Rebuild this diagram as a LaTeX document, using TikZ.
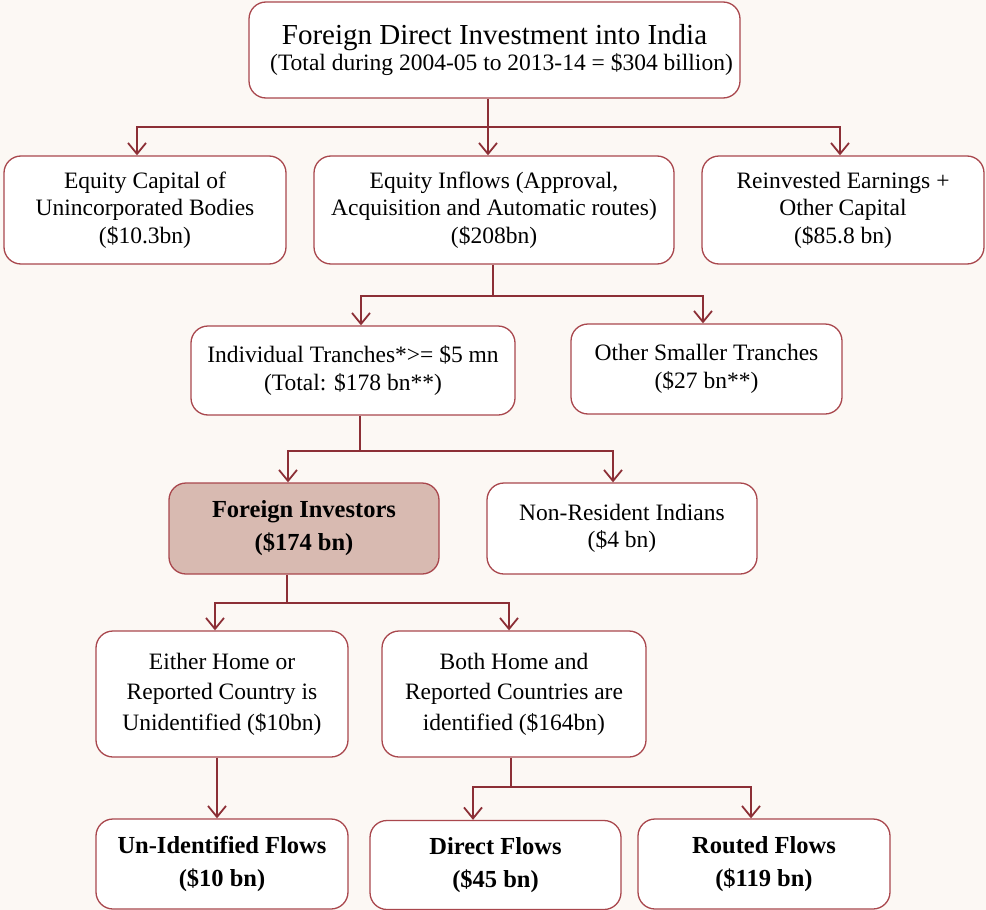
\documentclass[tikz,border=0pt]{standalone}
\usepackage{fontspec}
\setmainfont{Liberation Serif}
\usetikzlibrary{arrows.meta}
\definecolor{bgc}{HTML}{FCF8F4}
\definecolor{boxline}{HTML}{A9474D}
\definecolor{connc}{HTML}{8C2F36}
\definecolor{hlc}{HTML}{D8BAB1}
\begin{document}
\begin{tikzpicture}[x=1pt,y=-1pt,
  box/.style={draw=boxline, line width=1.3pt, rounded corners=17pt, fill=white,
    align=center, inner sep=0pt, font=\fontsize{23.5}{27.5}\selectfont},
  boldbox/.style={box, font=\fontsize{24.5}{33}\selectfont\bfseries},
  conn/.style={draw=connc, line width=2.2pt},
  arr/.style={conn, -{Straight Barb[length=11pt,width=18pt,line width=1.8pt]}}
]
\fill[bgc] (0,0) rectangle (986,910);
\useasboundingbox (0,0) rectangle (986,910);

\node[box, minimum width=491pt, minimum height=96pt] (title) at (494.5,50)
  {{\fontsize{29}{30}\selectfont Foreign Direct Investment into India}\\[-1pt]
   \fontsize{23.5}{29}\selectfont\hspace*{14pt}(Total during 2004-05 to 2013-14 = \$304 billion)};
\node[box, minimum width=282pt, minimum height=108pt] (ecub) at (145,210)
  {Equity Capital of\\Unincorporated Bodies\\(\$10.3bn)};
\node[box, minimum width=360pt, minimum height=108pt] (eqin) at (494,210)
  {Equity Inflows (Approval,\\Acquisition and Automatic routes)\\(\$208bn)};
\node[box, minimum width=282pt, minimum height=108pt] (rein) at (843,210)
  {Reinvested Earnings +\\Other Capital\\(\$85.8 bn)};
\node[box, minimum width=324pt, minimum height=89pt] (indv) at (353,370.5)
  {Individual Tranches*>= \$5 mn\\(Total: \$178 bn**)};
\node[box, minimum width=271pt, minimum height=90pt] (othr) at (706.5,369)
  {Other Smaller Tranches\\(\$27 bn**)};
\node[boldbox, fill=hlc, minimum width=270pt, minimum height=91pt] (finv) at (304,528.5)
  {Foreign Investors\\(\$174 bn)};
\node[box, minimum width=270pt, minimum height=91pt] (nri) at (622,528.5)
  {Non-Resident Indians\\(\$4 bn)};
\node[box, font=\fontsize{23.5}{30.5}\selectfont, minimum width=252pt, minimum height=126pt] (eith) at (222,694)
  {Either Home or\\Reported Country is\\Unidentified (\$10bn)};
\node[box, font=\fontsize{23.5}{30.5}\selectfont, minimum width=264pt, minimum height=126pt] (both) at (514,694)
  {Both Home and\\Reported Countries are\\identified (\$164bn)};
\node[boldbox, minimum width=252pt, minimum height=90pt] (unid) at (222,864)
  {Un-Identified Flows\\(\$10 bn)};
\node[boldbox, minimum width=251pt, minimum height=89pt] (dirf) at (495.5,865)
  {Direct Flows\\(\$45 bn)};
\node[boldbox, minimum width=252pt, minimum height=90pt] (rout) at (764,864)
  {Routed Flows\\(\$119 bn)};

% level 1
\coordinate (j1) at (488,127);
\coordinate (a1) at (137,127);
\coordinate (a2) at (840,127);
\draw[conn] (title.south -| j1) -- (j1);
\draw[arr] (j1) -- (a1) -- (a1 |- ecub.north);
\draw[arr] (j1) -- (j1 |- eqin.north);
\draw[arr] (j1) -- (a2) -- (a2 |- rein.north);
% level 2
\coordinate (j2) at (493,296);
\coordinate (b1) at (361,296);
\coordinate (b2) at (703,296);
\draw[conn] (eqin.south -| j2) -- (j2);
\draw[arr] (j2) -- (b1) -- (b1 |- indv.north);
\draw[arr] (j2) -- (b2) -- (b2 |- othr.north);
% level 3
\coordinate (j3) at (360,451);
\coordinate (c1) at (288,451);
\coordinate (c2) at (613,451);
\draw[conn] (indv.south -| j3) -- (j3);
\draw[arr] (j3) -- (c1) -- (c1 |- finv.north);
\draw[arr] (j3) -- (c2) -- (c2 |- nri.north);
% level 4
\coordinate (j4) at (287,603);
\coordinate (d1) at (215,603);
\coordinate (d2) at (509,603);
\draw[conn] (finv.south -| j4) -- (j4);
\draw[arr] (j4) -- (d1) -- (d1 |- eith.north);
\draw[arr] (j4) -- (d2) -- (d2 |- both.north);
% level 5
\coordinate (e0) at (217,757);
\draw[arr, line width=1.5pt] (eith.south -| e0) -- (e0 |- unid.north);
\coordinate (j5) at (511,787);
\coordinate (f1) at (473,787);
\coordinate (f2) at (751,787);
\draw[conn] (both.south -| j5) -- (j5);
\draw[arr] (j5) -- (f1) -- (f1 |- dirf.north);
\draw[arr] (j5) -- (f2) -- (f2 |- rout.north);
\end{tikzpicture}
\end{document}
